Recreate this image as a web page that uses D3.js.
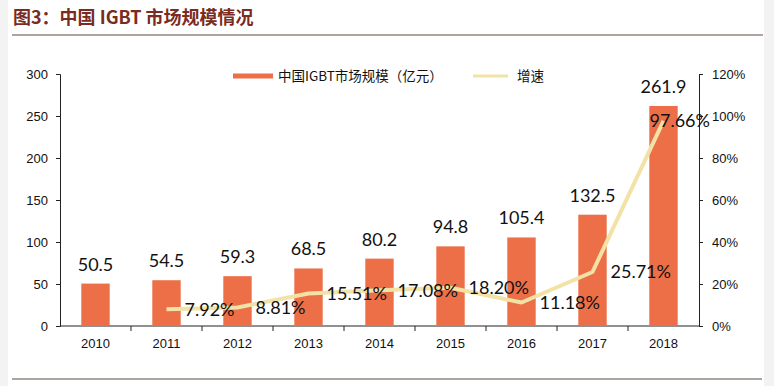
<!DOCTYPE html>
<html>
<head>
<meta charset="utf-8">
<script src="https://cdn.jsdelivr.net/npm/d3@7"></script>
<style>
  body { margin: 0; background: #f3f3f3; }
  svg { display: block; }
</style>
</head>
<body>
<svg id="chart"></svg>
<script>
// data
var years = ["2010", "2011", "2012", "2013", "2014", "2015", "2016", "2017", "2018"];
var marketSize = [50.5, 54.5, 59.3, 68.5, 80.2, 94.8, 105.4, 132.5, 261.9];
var growth = [null, 7.92, 8.81, 15.51, 17.08, 18.20, 11.18, 25.71, 97.66];
var leftTicks = [0, 50, 100, 150, 200, 250, 300];
var rightTicks = [0, 20, 40, 60, 80, 100, 120];

var svgWidth = 774, svgHeight = 386;
var margin = { top: 74, right: 75, bottom: 60, left: 60 };
var chartWidth = svgWidth - margin.left - margin.right;
var chartHeight = svgHeight - margin.top - margin.bottom;

var barColor = "#ec6f47";
var lineColor = "#f2e2a6";

var svg = d3.select("#chart").attr("width", svgWidth).attr("height", svgHeight);

// white page area
svg.append("rect").attr("x", 8).attr("y", 0).attr("width", 756).attr("height", svgHeight).attr("fill", "#fff");

// title + rules
svg.append("text")
  .attr("x", 13).attr("y", 24)
  .attr("font-family", "'Noto Sans CJK SC', sans-serif")
  .attr("font-size", 18).attr("font-weight", "bold")
  .attr("fill", "#7a2b22")
  .text("图3：中国 IGBT 市场规模情况");
svg.append("line").attr("x1", 12).attr("x2", 763).attr("y1", 35).attr("y2", 35)
  .attr("stroke", "#5a4a42").attr("stroke-width", 1.2);
svg.append("line").attr("x1", 12).attr("x2", 762).attr("y1", 379).attr("y2", 379)
  .attr("stroke", "#5a4a42").attr("stroke-width", 1.2);

var g = svg.append("g").attr("transform", `translate(${margin.left}, ${margin.top})`);

// scales
var x = d3.scaleBand().domain(years).range([0, chartWidth]).paddingInner(0.6).paddingOuter(0.3);
var xBand = d3.scaleBand().domain(years).range([0, chartWidth]);
var yLeft = d3.scaleLinear().domain([0, 300]).range([chartHeight, 0]);
var yRight = d3.scaleLinear().domain([0, 120]).range([chartHeight, 0]);

// axes
var axisFont = "'Liberation Sans', Arial, sans-serif";

var leftAxis = g.append("g").call(d3.axisLeft(yLeft).tickValues(leftTicks).tickSize(4).tickPadding(8));
var rightAxis = g.append("g").attr("transform", `translate(${chartWidth}, 0)`)
  .call(d3.axisRight(yRight).tickValues(rightTicks).tickSize(4).tickPadding(9).tickFormat(d => d + "%"));
[leftAxis, rightAxis].forEach(a => {
  a.select(".domain").attr("stroke", "#222");
  a.selectAll(".tick line").attr("stroke", "#222");
  a.selectAll("text").attr("font-family", axisFont).attr("font-size", 13).attr("fill", "#111");
});

// bottom axis: ticks between categories
var bottom = g.append("g").attr("transform", `translate(0, ${chartHeight})`);
bottom.append("line").attr("x1", 0).attr("x2", chartWidth).attr("stroke", "#222");
bottom.selectAll("line.tk").data(years.slice(1)).enter().append("line")
  .attr("class", "tk")
  .attr("x1", d => xBand(d)).attr("x2", d => xBand(d))
  .attr("y1", 0).attr("y2", 5).attr("stroke", "#222");
bottom.selectAll("text").data(years).enter().append("text")
  .attr("x", d => xBand(d) + xBand.bandwidth() / 2)
  .attr("y", 22)
  .attr("text-anchor", "middle")
  .attr("font-family", axisFont).attr("font-size", 13).attr("fill", "#111")
  .text(d => d);

// bars
g.selectAll("rect.bar").data(marketSize).enter().append("rect")
  .attr("class", "bar")
  .attr("x", (d, i) => x(years[i]))
  .attr("width", x.bandwidth())
  .attr("y", d => yLeft(d))
  .attr("height", d => chartHeight - yLeft(d))
  .attr("fill", barColor);

var labelFont = "Lato, 'Open Sans', sans-serif";

g.selectAll("text.barlab").data(marketSize).enter().append("text")
  .attr("class", "barlab")
  .attr("x", (d, i) => x(years[i]) + x.bandwidth() / 2)
  .attr("y", d => yLeft(d) - 13)
  .attr("text-anchor", "middle")
  .attr("font-family", labelFont).attr("font-size", 18).attr("fill", "#111")
  .text(d => d.toFixed(1));

// growth line
var pts = growth.map((v, i) => ({ year: years[i], v: v })).filter(p => p.v !== null);
var line = d3.line()
  .x(p => xBand(p.year) + xBand.bandwidth() / 2)
  .y(p => yRight(p.v));
g.append("path").datum(pts)
  .attr("d", line)
  .attr("fill", "none")
  .attr("stroke", lineColor)
  .attr("stroke-width", 4)
  .attr("stroke-linejoin", "round");

g.selectAll("text.pct").data(pts).enter().append("text")
  .attr("class", "pct")
  .attr("x", (p, i) => xBand(p.year) + xBand.bandwidth() / 2 + (i === pts.length - 1 ? -14 : 18))
  .attr("y", p => yRight(p.v))
  .attr("dy", "0.36em")
  .attr("font-family", labelFont).attr("font-size", 18).attr("fill", "#111")
  .text(p => p.v.toFixed(2) + "%");

// legend
var legend = svg.append("g");
legend.append("rect").attr("x", 233).attr("y", 73.5).attr("width", 40).attr("height", 5).attr("fill", barColor);
legend.append("text").attr("x", 278).attr("y", 76).attr("dy", "0.35em")
  .attr("font-family", "'Noto Sans CJK SC', sans-serif").attr("font-size", 13.5).attr("fill", "#111")
  .text("中国IGBT市场规模（亿元）");
legend.append("line").attr("x1", 473).attr("x2", 508).attr("y1", 76).attr("y2", 76)
  .attr("stroke", lineColor).attr("stroke-width", 3);
legend.append("text").attr("x", 517).attr("y", 76).attr("dy", "0.35em")
  .attr("font-family", "'Noto Sans CJK SC', sans-serif").attr("font-size", 13.5).attr("fill", "#111")
  .text("增速");
</script>
</body>
</html>
